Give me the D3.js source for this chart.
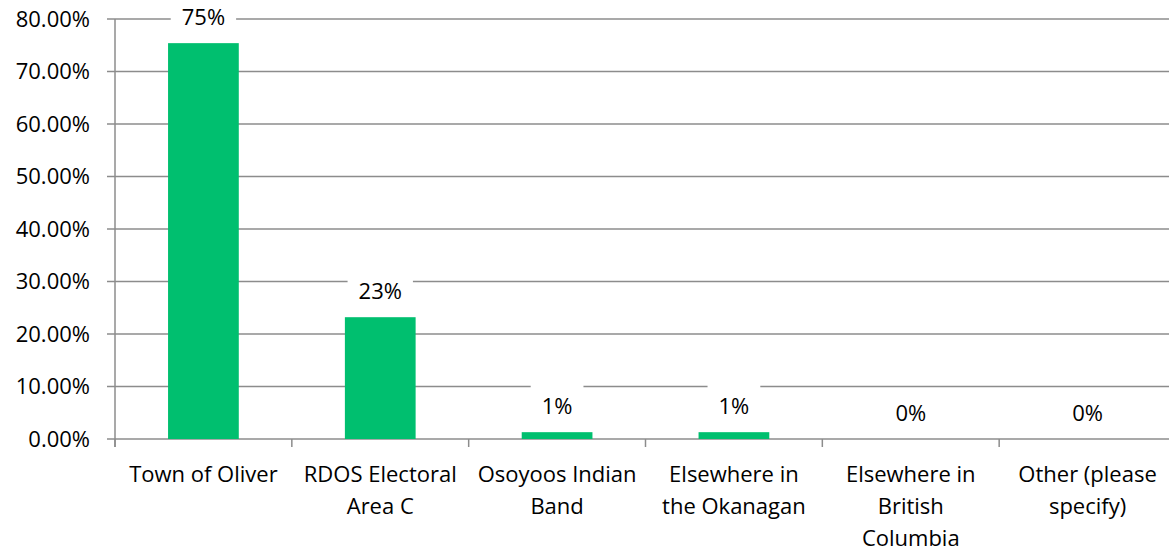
<!DOCTYPE html>
<html>
<head>
<meta charset="utf-8">
<script src="https://cdn.jsdelivr.net/npm/d3@7"></script>
<style>
  body { margin: 0; background: #fff; }
  #chart { width: 1169px; height: 552px; }
  text { font-family: "Open Sans", sans-serif; fill: #000; }
</style>
</head>
<body>
<div id="chart"></div>
<script>
// categories (line breaks as in the original axis)
const categories = [
    "Town of Oliver",
    "RDOS Electoral\nArea C",
    "Osoyoos Indian\nBand",
    "Elsewhere in\nthe Okanagan",
    "Elsewhere in\nBritish\nColumbia",
    "Other (please\nspecify)"
];
const values = [0.754, 0.232, 0.013, 0.013, 0, 0];
const yTicks = [0, 0.1, 0.2, 0.3, 0.4, 0.5, 0.6, 0.7, 0.8];

const width = 1169;
const height = 552;
const margin = {top: 19, left: 115, right: -7, bottom: 113};
const fontSize = "22px";

const canvas = d3.select("#chart")
    .append("svg")
    .attr("width", width)
    .attr("height", height);

const xScale = d3.scaleBand()
    .domain(categories)
    .range([margin.left, width - margin.right]);

const yScale = d3.scaleLinear()
    .domain([0, 0.8])
    .range([height - margin.bottom, margin.top]);

const gridColor = "#8c8c8c";

// gridlines + y axis ticks
canvas.append("g")
    .selectAll("line")
    .data(yTicks)
    .enter()
    .append("line")
        .attr("x1", margin.left - 8)
        .attr("x2", width)
        .attr("y1", d => yScale(d))
        .attr("y2", d => yScale(d))
        .attr("stroke", gridColor)
        .attr("stroke-width", 1.5);

canvas.append("g")
    .selectAll("text")
    .data(yTicks)
    .enter()
    .append("text")
        .attr("x", 90)
        .attr("y", d => yScale(d))
        .attr("dy", "0.35em")
        .attr("text-anchor", "end")
        .style("font-size", fontSize)
        .text(d => d3.format(".2%")(d));

// y axis line
canvas.append("line")
    .attr("x1", margin.left).attr("x2", margin.left)
    .attr("y1", yScale(0.8)).attr("y2", yScale(0) + 8)
    .attr("stroke", gridColor)
    .attr("stroke-width", 1.5);

// x axis ticks at band boundaries
const bounds = categories.map(d => xScale(d)).concat([xScale.range()[1]]);
canvas.append("g")
    .selectAll("line")
    .data(bounds)
    .enter()
    .append("line")
        .attr("x1", d => d).attr("x2", d => d)
        .attr("y1", yScale(0)).attr("y2", yScale(0) + 8)
        .attr("stroke", gridColor)
        .attr("stroke-width", 1.5);

// bars
const barW = xScale.bandwidth() * 0.4;
canvas.selectAll("rect.bar")
    .data(values)
    .enter()
    .append("rect")
        .attr("class", "bar")
        .attr("x", (d, i) => xScale(categories[i]) + xScale.bandwidth() / 2 - barW / 2)
        .attr("y", d => yScale(d))
        .attr("width", barW)
        .attr("height", d => yScale(0) - yScale(d))
        .attr("fill", "#00bf6f");

// data labels with white boxes
const labels = canvas.append("g")
    .selectAll("g")
    .data(values)
    .enter()
    .append("g")
        .attr("transform", (d, i) => `translate(${xScale(categories[i]) + xScale.bandwidth() / 2},${yScale(d) - 26})`);

labels.append("text")
    .attr("text-anchor", "middle")
    .attr("dy", "0.35em")
    .style("font-size", fontSize)
    .text(d => d3.format(".0%")(d));

labels.insert("rect", "text")
    .each(function() {
        const t = d3.select(this.parentNode).select("text").node().getBBox();
        d3.select(this)
            .attr("x", t.x - 11)
            .attr("y", -22)
            .attr("width", t.width + 22)
            .attr("height", 44)
            .attr("fill", "#fff");
    });

// category labels
const catLabels = canvas.append("g")
    .selectAll("text")
    .data(categories)
    .enter()
    .append("text")
        .attr("text-anchor", "middle")
        .style("font-size", fontSize)
        .attr("transform", d => `translate(${xScale(d) + xScale.bandwidth() / 2},482)`);

catLabels.each(function(d) {
    const lines = d.split("\n");
    d3.select(this).selectAll("tspan")
        .data(lines)
        .enter()
        .append("tspan")
            .attr("x", 0)
            .attr("y", (l, i) => i * 32)
            .text(l => l);
});
</script>
</body>
</html>
